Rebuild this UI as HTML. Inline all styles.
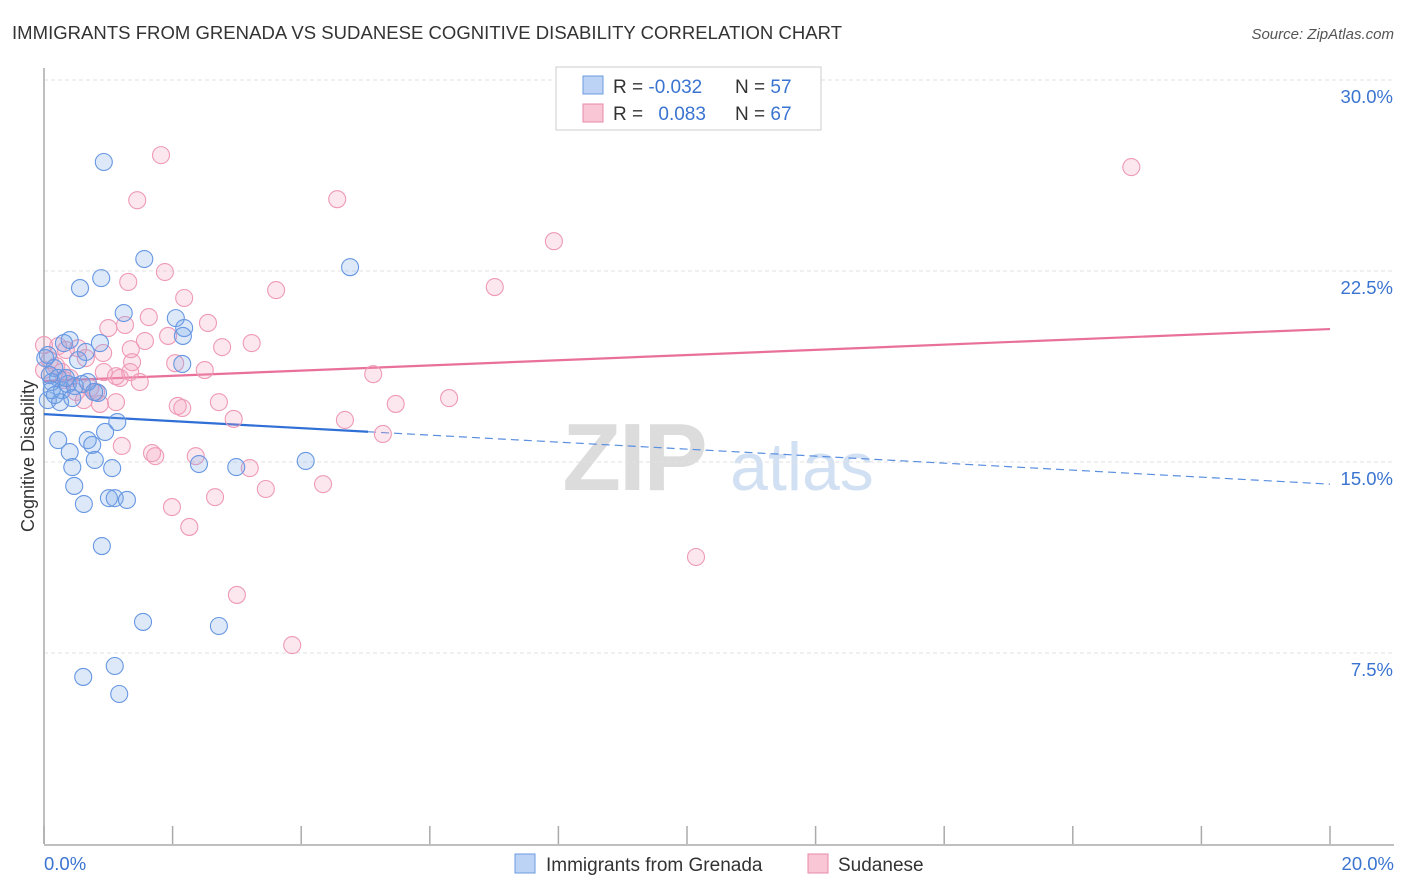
<!DOCTYPE html>
<html><head><meta charset="utf-8">
<style>
body{margin:0;background:#fff;font-family:"Liberation Sans",sans-serif;}
#wrap{position:relative;width:1406px;height:892px;overflow:hidden;}
</style></head>
<body>
<div id="wrap">
<svg id="chart" width="1406" height="892" style="position:absolute;left:0;top:0">
<text x="12" y="39" font-size="18.5" fill="#333" textLength="830">IMMIGRANTS FROM GRENADA VS SUDANESE COGNITIVE DISABILITY CORRELATION CHART</text>
<text x="1394" y="39" font-size="15" fill="#555" font-style="italic" text-anchor="end">Source: ZipAtlas.com</text>
<text x="34" y="456" font-size="18" fill="#333" text-anchor="middle" transform="rotate(-90 34 456)">Cognitive Disability</text>
<g>
<text x="634" y="490" font-size="96" fill="#dcdcdc" font-weight="bold" text-anchor="middle" letter-spacing="-2">ZIP</text>
<text x="802" y="490" font-size="68" fill="#d2e0f3" text-anchor="middle">atlas</text>
</g>
<g id="grid"></g><g id="axes"></g><g id="trend"></g><g id="pts"></g>
<g>
<rect x="556" y="67" width="265" height="63" fill="#fff" stroke="#ccc"/>
<rect x="583" y="76" width="20" height="18" fill="#bcd3f5" stroke="#6b9be0"/>
<rect x="583" y="104" width="20" height="18" fill="#f9c6d6" stroke="#e88aa8"/>
<text x="613" y="93" font-size="19" fill="#333">R = <tspan fill="#3a74d0">-0.032</tspan></text>
<text x="735" y="93" font-size="19" fill="#333">N = <tspan fill="#3a74d0">57</tspan></text>
<text x="613" y="120" font-size="19" fill="#333">R = <tspan fill="#3a74d0" dx="10">0.083</tspan></text>
<text x="735" y="120" font-size="19" fill="#333">N = <tspan fill="#3a74d0">67</tspan></text>
</g>
<g>
<rect x="515" y="854" width="20" height="19" fill="#bcd3f5" stroke="#6b9be0"/>
<text x="546" y="871" font-size="19" fill="#333">Immigrants from Grenada</text>
<rect x="808" y="854" width="20" height="19" fill="#f9c6d6" stroke="#e88aa8"/>
<text x="838" y="871" font-size="19" fill="#333">Sudanese</text>
</g>
</svg>
</div>
<script>
const yTicks=[7.5,15,22.5,30];
const yTickLabels=["7.5%","15.0%","22.5%","30.0%"];
const xTicks=[0,2,4,6,8,10,12,14,16,18,20];
const xEndLabels=["0.0%","20.0%"];
const blueX=[0.93,1.56,0.89,0.56,1.24,2.05,2.18,2.16,0.87,2.15,4.76,0.06,0.16,0.22,0.12,0.28,0.37,0.48,0.65,0.53,0.31,0.84,0.06,0.25,0.44,0.68,0.22,0.40,0.68,0.75,0.79,0.44,1.06,0.95,1.14,0.47,0.62,1.01,1.10,1.29,2.41,2.99,4.07,0.90,1.54,2.72,1.10,0.61,1.17,0.12,0.34,0.59,0.17,0.02,0.09,0.78,0.40];
const blueY=[26.78,22.97,22.22,21.83,20.85,20.65,20.26,19.95,19.67,18.85,22.65,19.20,18.69,18.30,18.14,17.82,18.06,17.98,19.32,19.00,19.67,17.71,17.43,17.35,17.51,18.14,15.86,15.39,15.86,15.67,15.08,14.80,14.76,16.18,16.57,14.06,13.35,13.58,13.58,13.51,14.92,14.80,15.04,11.70,8.72,8.56,6.99,6.56,5.89,17.82,18.30,18.06,17.63,19.08,18.41,17.75,19.79];
const pinkX=[1.82,1.45,4.56,16.91,7.93,1.88,1.31,2.18,3.61,7.01,1.63,1.26,1.00,2.55,1.93,3.23,2.77,1.35,0.53,1.57,0.22,0.65,2.04,2.50,1.37,0.93,1.12,1.49,5.12,0.28,0.40,0.72,0.87,1.12,2.08,2.15,2.72,2.95,4.68,5.47,6.30,5.27,1.21,1.68,1.73,2.36,3.20,3.45,4.34,2.66,1.99,2.26,10.14,3.00,3.86,0.09,0.19,0.31,0.50,0.81,0.62,0.0,1.18,1.34,0.92,0.34,0.0];
const pinkY=[27.05,25.28,25.32,26.58,23.67,22.46,22.07,21.44,21.75,21.87,20.69,20.38,20.26,20.46,19.95,19.67,19.51,19.43,19.47,19.75,19.55,19.08,18.88,18.61,18.92,18.53,18.37,18.14,18.45,18.53,18.30,17.90,17.28,17.35,17.20,17.12,17.35,16.69,16.65,17.28,17.51,16.10,15.63,15.35,15.23,15.23,14.76,13.94,14.13,13.62,13.23,12.45,11.27,9.78,7.81,19.00,18.77,18.22,17.75,17.75,17.43,19.59,18.30,18.53,19.28,19.40,18.61];
const blueTrend=[16.88,14.13];
const blueSolidEnd=[5.04];
const pinkTrend=[18.18,20.22];

const NS="http://www.w3.org/2000/svg";
const X0=44,X1=1330,Y0=844,Y30=80;
const sx=v=>X0+(v/20)*(X1-X0);
const sy=v=>Y0-(v/30)*(Y0-Y30);
function mk(tag,attrs,parent){const e=document.createElementNS(NS,tag);for(const k in attrs)e.setAttribute(k,attrs[k]);parent.appendChild(e);return e;}
const grid=document.getElementById('grid'),axes=document.getElementById('axes'),trend=document.getElementById('trend'),pts=document.getElementById('pts');
yTicks.forEach((t,i)=>{
 const l=mk('line',{x1:X0,x2:1394,y1:sy(t),y2:sy(t),stroke:'#e2e2e2','stroke-dasharray':'4,3'},grid);
 
 
 const tx=mk('text',{x:1393,y:sy(t)+23,'font-size':18.5,fill:'#3a74d0','text-anchor':'end'},grid);
 tx.textContent=yTickLabels[i];
 
 
});
const ya=mk('line',{x1:X0,x2:X0,y1:68,y2:Y0,stroke:'#aaa','stroke-width':1.5},axes);


const xa=mk('line',{x1:X0,x2:1394,y1:Y0+1,y2:Y0+1,stroke:'#aaa','stroke-width':1.5},axes);


xTicks.forEach(t=>{
 const l=mk('line',{x1:sx(t),x2:sx(t),y1:Y0-18,y2:Y0,stroke:'#aaa','stroke-width':1.5},axes);
 
 
});
[[0,'start'],[20,'end']].forEach((d,i)=>{
 const tx=mk('text',{x:i?1394:X0,y:870,'font-size':18.5,fill:'#3a74d0','text-anchor':d[1]},axes);
 tx.textContent=xEndLabels[i];
 
 
});
function pt(x,y,fill,stroke,name){
 const c=mk('circle',{cx:sx(x),cy:sy(y),r:8.5,fill:fill,stroke:stroke,'stroke-width':1.1},pts);
 
 
}
pinkX.forEach((x,i)=>pt(x,pinkY[i],'rgba(244,160,188,0.25)','#ee9ab6','sudanese-point'));
blueX.forEach((x,i)=>pt(x,blueY[i],'rgba(120,168,232,0.25)','#6797e2','grenada-point'));
const bAt=x=>blueTrend[0]+(blueTrend[1]-blueTrend[0])*x/20;
const b1=mk('line',{x1:sx(0),y1:sy(bAt(0)),x2:sx(blueSolidEnd[0]),y2:sy(bAt(blueSolidEnd[0])),stroke:'#2f6fd6','stroke-width':2.2},trend);


const b2=mk('line',{x1:sx(blueSolidEnd[0]),y1:sy(bAt(blueSolidEnd[0])),x2:sx(20),y2:sy(bAt(20)),stroke:'#5a8fe0','stroke-width':1.2,'stroke-dasharray':'8,5'},trend);


const p1=mk('line',{x1:sx(0),y1:sy(pinkTrend[0]),x2:sx(20),y2:sy(pinkTrend[1]),stroke:'#e8709a','stroke-width':2.2},trend);


</script>
</body></html>
